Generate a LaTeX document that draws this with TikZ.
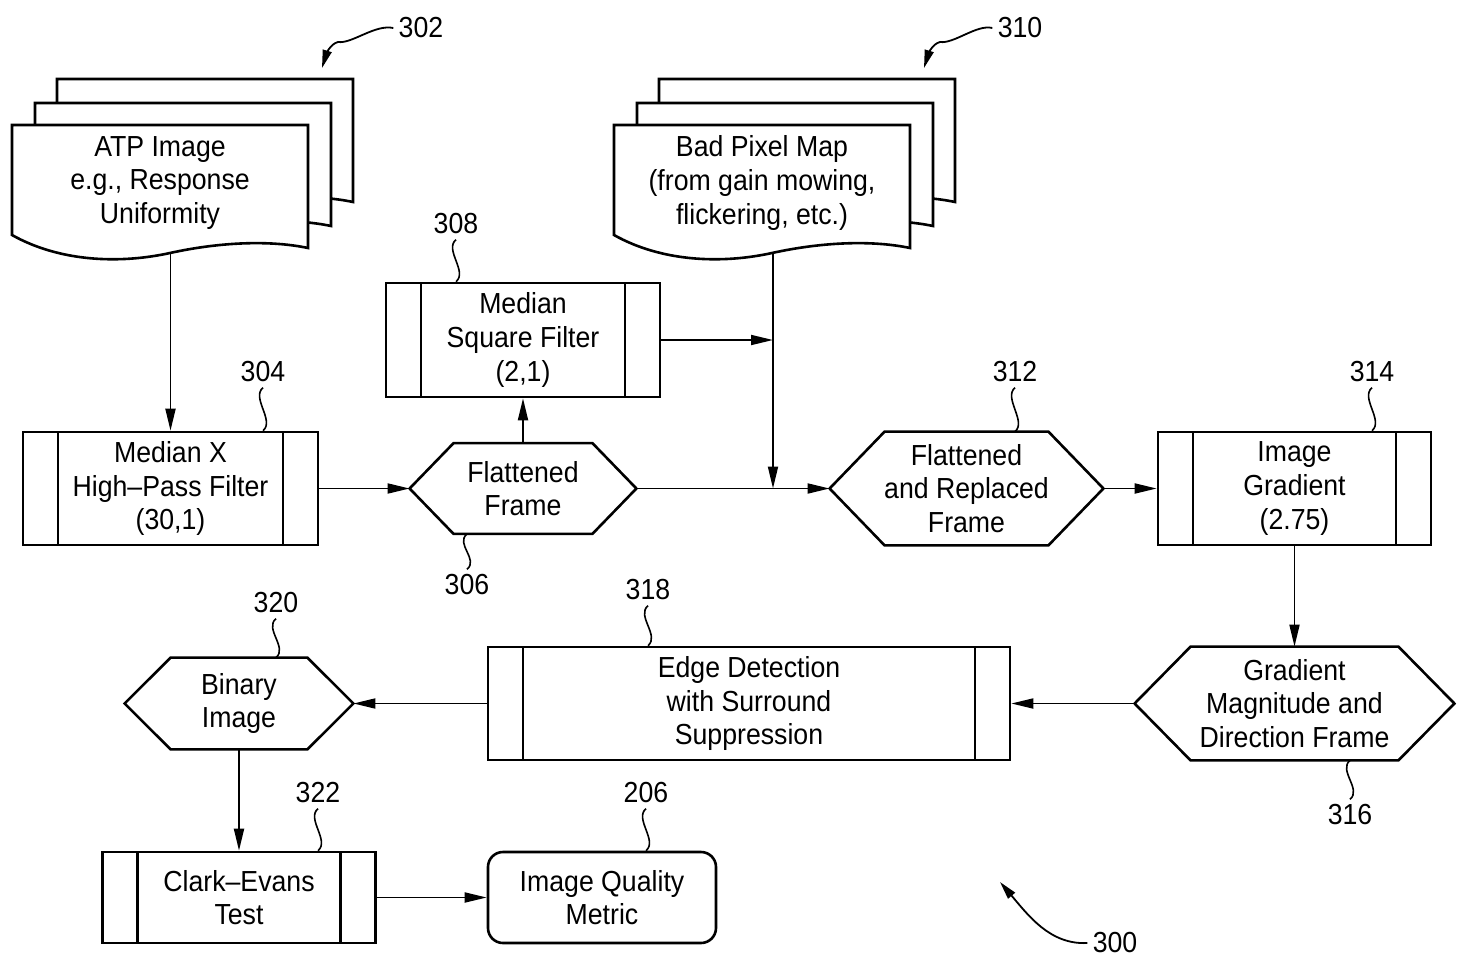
\documentclass[tikz,border=0pt]{standalone}
\usepackage{fontspec}
\setmainfont[FakeStretch=0.92]{Liberation Sans}
\usetikzlibrary{arrows.meta}
\newcommand\hexshape[2]{%
  \draw[line width=1.3pt] (#1.west) -- ([xshift=#2*0.5pt]#1.north west) -- ([xshift=-#2*0.5pt]#1.north east) -- (#1.east) -- ([xshift=-#2*0.5pt]#1.south east) -- ([xshift=#2*0.5pt]#1.south west) -- cycle;}
\newcommand\docsheet[2]{%
  \draw[line width=1.3pt, fill=white, shift={(#1,#2)}] (12,125) -- (308,125) -- (308,248) .. controls (270,240) and (220,242) .. (170,253) .. controls (120,264) and (60,262) .. (12,235) -- cycle;}
\begin{document}
\begin{tikzpicture}[x=0.5pt,y=-0.5pt,
  every node/.style={font=\fontsize{14.5}{16.8}\selectfont},
  box/.style={draw, line width=1.3pt, inner sep=0pt, align=center},
  txt/.style={inner sep=0pt, align=center},
  bars/.style={path picture={\draw[line width=1.3pt]
     ([xshift=17.5pt]path picture bounding box.north west) -- ([xshift=17.5pt]path picture bounding box.south west)
     ([xshift=-17.5pt]path picture bounding box.north east) -- ([xshift=-17.5pt]path picture bounding box.south east);}},
  lab/.style={inner sep=2.5pt},
  conn/.style={line width=0.9pt, -{Triangle[length=11pt,width=5pt]}},
  callout/.style={line width=0.9pt, -{Triangle[length=9pt,width=4.5pt]}},
  sq/.style={line width=0.8pt, to path={.. controls +(-12,10) and +(12,-10) .. (\tikztotarget)}},
  ]
\useasboundingbox (0,0) rectangle (1458,975);
\fill[white] (0,0) rectangle (1458,975);

% document stacks
\docsheet{45}{-46}
\docsheet{23}{-22}
\docsheet{0}{0}
\docsheet{647}{-46}
\docsheet{625}{-22}
\docsheet{602}{0}
\node[txt] (atp) at (160,183) {ATP Image\\e.g., Response\\Uniformity};
\node[txt] (bpm) at (762,183) {Bad Pixel Map\\(from gain mowing,\\flickering, etc.)};
\coordinate (atpb) at (170.5,253);
\coordinate (bpb) at (773,253);

% process boxes
\node[box,bars,minimum width=137pt,minimum height=57pt] (msf) at (523,340) {Median\\Square Filter\\(2,1)};
\node[box,bars,minimum width=147.5pt,minimum height=56.5pt] (mx) at (170.5,488.5) {Median X\\High--Pass Filter\\(30,1)};
\node[box,bars,minimum width=136.5pt,minimum height=56.5pt] (ig) at (1294.5,488.5) {Image\\Gradient\\(2.75)};
\node[box,bars,minimum width=261pt,minimum height=56.5pt] (ed) at (749,703.5) {Edge Detection\\with Surround\\Suppression};
\node[box,bars,minimum width=136.5pt,minimum height=45.5pt] (ce) at (239,897.5) {Clark--Evans\\Test};
\node[box,rounded corners=7.5pt,minimum width=114pt,minimum height=45.5pt] (iqm) at (602,897.5) {Image Quality\\Metric};

% hexagon data frames
\node[txt,minimum width=113pt,minimum height=45pt] (ff) at (523,488.5) {Flattened\\Frame};
\hexshape{ff}{44}
\node[txt,minimum width=136.5pt,minimum height=56.5pt] (far) at (966.5,488.5) {Flattened\\and Replaced\\Frame};
\hexshape{far}{55}
\node[txt,minimum width=159.5pt,minimum height=56.5pt] (gmd) at (1294.5,703.5) {Gradient\\Magnitude and\\Direction Frame};
\hexshape{gmd}{56}
\node[txt,minimum width=114pt,minimum height=45.5pt] (bi) at (239,703.5) {Binary\\Image};
\hexshape{bi}{46}

% connectors
\coordinate (j1) at (773,340);
\coordinate (j2) at (773,488.5);
\draw[conn] (atpb) -- (mx.north);
\draw[conn] (mx.east) -- (ff.west);
\draw[conn] (ff.north) -- (msf.south);
\draw[conn] (msf.east) -- (j1);
\draw[conn] (bpb) -- (j2);
\draw[conn] (ff.east) -- (far.west);
\draw[conn] (far.east) -- (ig.west);
\draw[conn] (ig.south) -- (gmd.north);
\draw[conn] (gmd.west) -- (ed.east);
\draw[conn] (ed.west) -- (bi.east);
\draw[conn] (bi.south) -- (ce.north);
\draw[conn] (ce.east) -- (iqm.west);

% reference labels
\node[lab] (l302) at (421,28) {302};
\node[lab] (l310) at (1020,28) {310};
\node[lab] (l300) at (1115,943) {300};
\node[lab] (l308) at (456,224) {308};
\node[lab] (l304) at (263,372) {304};
\node[lab] (l306) at (467,585) {306};
\node[lab] (l312) at (1015,372) {312};
\node[lab] (l314) at (1372,372) {314};
\node[lab] (l318) at (648,590) {318};
\node[lab] (l320) at (276,603) {320};
\node[lab] (l316) at (1350,815) {316};
\node[lab] (l322) at (318,793) {322};
\node[lab] (l206) at (646,793) {206};

\draw[sq] (l308.south) to (l308.south |- msf.north);
\draw[sq] (l304.south) to (l304.south |- mx.north);
\draw[sq] (l312.south) to (l312.south |- far.north);
\draw[sq] (l314.south) to (l314.south |- ig.north);
\draw[sq] (l318.south) to (l318.south |- ed.north);
\draw[sq] (l320.south) to (l320.south |- bi.north);
\draw[sq] (l322.south) to (l322.south |- ce.north);
\draw[sq] (l206.south) to (l206.south |- iqm.north);
\draw[sq] (l306.north |- ff.south) to (l306.north);
\draw[sq] (l316.north |- gmd.south) to (l316.north);

% callout arrows
\coordinate (t302) at (322,68);
\coordinate (t310) at (924,68);
\coordinate (t300) at (1000,882);
\draw[callout] (l302.west) .. controls (375,24) and (352,44) .. (338,42) .. controls (330,44) and (326,55) .. (t302);
\draw[callout] (l310.west) .. controls (977,24) and (954,44) .. (940,42) .. controls (932,44) and (928,55) .. (t310);
\draw[callout] (l300.west) .. controls (1050,945) and (1028,915) .. (t300);
\end{tikzpicture}
\end{document}
